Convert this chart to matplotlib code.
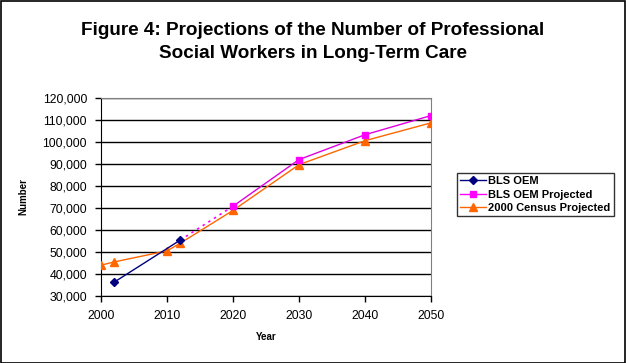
import matplotlib
matplotlib.use("Agg")
import matplotlib.pyplot as plt
from matplotlib.ticker import FuncFormatter
from matplotlib.patches import Rectangle

plt.rcParams['font.family'] = ['Liberation Sans', 'DejaVu Sans']

bls_years = [2002, 2012]
bls_vals = [36300, 55400]

proj_link_years = [2012, 2020]
proj_link_vals = [55400, 70800]
proj_years = [2020, 2030, 2040, 2050]
proj_vals = [70800, 92000, 103300, 112000]

census_years = [2000, 2002, 2010, 2012, 2020, 2030, 2040, 2050]
census_vals = [44000, 45500, 50500, 54000, 68900, 89700, 100600, 108700]

title = "Figure 4: Projections of the Number of Professional\nSocial Workers in Long-Term Care"

fig = plt.figure(figsize=(6.26, 3.63), dpi=100)
fig.patches.append(Rectangle((0.001, 0.001), 0.997, 0.996, transform=fig.transFigure,
                             fill=False, edgecolor='black', linewidth=1.2))
ax = fig.add_axes([101/626, 1-296/363, 330/626, 198/363])

navy = '#000080'
mag = '#FF00FF'
orange = '#FF6600'

ax.plot(census_years, census_vals, color=orange, lw=1, marker='^', ms=5.5,
        mec=orange, mfc=orange, zorder=3)
ax.plot(proj_link_years, proj_link_vals, color=mag, lw=1.2, ls=(0, (1.5, 2.5)), zorder=3)
ax.plot(proj_years, proj_vals, color='#E000E0', lw=1, marker='s', ms=4.8,
        mec=mag, mfc=mag, zorder=4)
ax.plot(bls_years, bls_vals, color=navy, lw=1, marker='D', ms=4,
        mec=navy, mfc=navy, zorder=5)

# legend handles
h1, = ax.plot([], [], color=navy, lw=1, marker='D', ms=4, label='BLS OEM')
h2, = ax.plot([], [], color=mag, lw=1, marker='s', ms=4.8, label='BLS OEM Projected')
h3, = ax.plot([], [], color=orange, lw=1, marker='^', ms=5.5, label='2000 Census Projected')

ax.set_xlim(2000, 2050)
ax.set_ylim(30000, 120000)
ax.set_xticks(range(2000, 2051, 10))
ax.set_yticks(range(30000, 120001, 10000))
ax.yaxis.set_major_formatter(FuncFormatter(lambda v, p: f"{int(v):,}"))
ax.grid(axis='y', color='black', lw=1)
ax.set_axisbelow(True)
ax.tick_params(axis='both', labelsize=8.8, length=4, width=1, color='black', direction='out')
ax.tick_params(axis='x', pad=6)
ax.tick_params(axis='y', pad=6)
for s in ['top', 'right']:
    ax.spines[s].set_color('#808080')
for s in ['left', 'bottom']:
    ax.spines[s].set_color('black')

ax.set_xlabel('Year', fontsize=7, fontweight='bold', labelpad=7)
ax.set_ylabel('Number', fontsize=7, fontweight='bold', labelpad=10)

fig.text(0.5, 1-42/363, title, ha='center', va='center', fontsize=13.6,
         fontweight='bold', linespacing=1.45)

leg = fig.legend(handles=[h1, h2, h3], loc='upper left',
                 bbox_to_anchor=(457/626, 1-173/363),
                 prop={'weight': 'bold', 'size': 8},
                 frameon=True, fancybox=False, edgecolor='black',
                 handlelength=2.3, handletextpad=0.2, borderpad=0.3,
                 labelspacing=0.3, borderaxespad=0)
leg.get_frame().set_linewidth(1)

fig.savefig('out.png', dpi=100)
